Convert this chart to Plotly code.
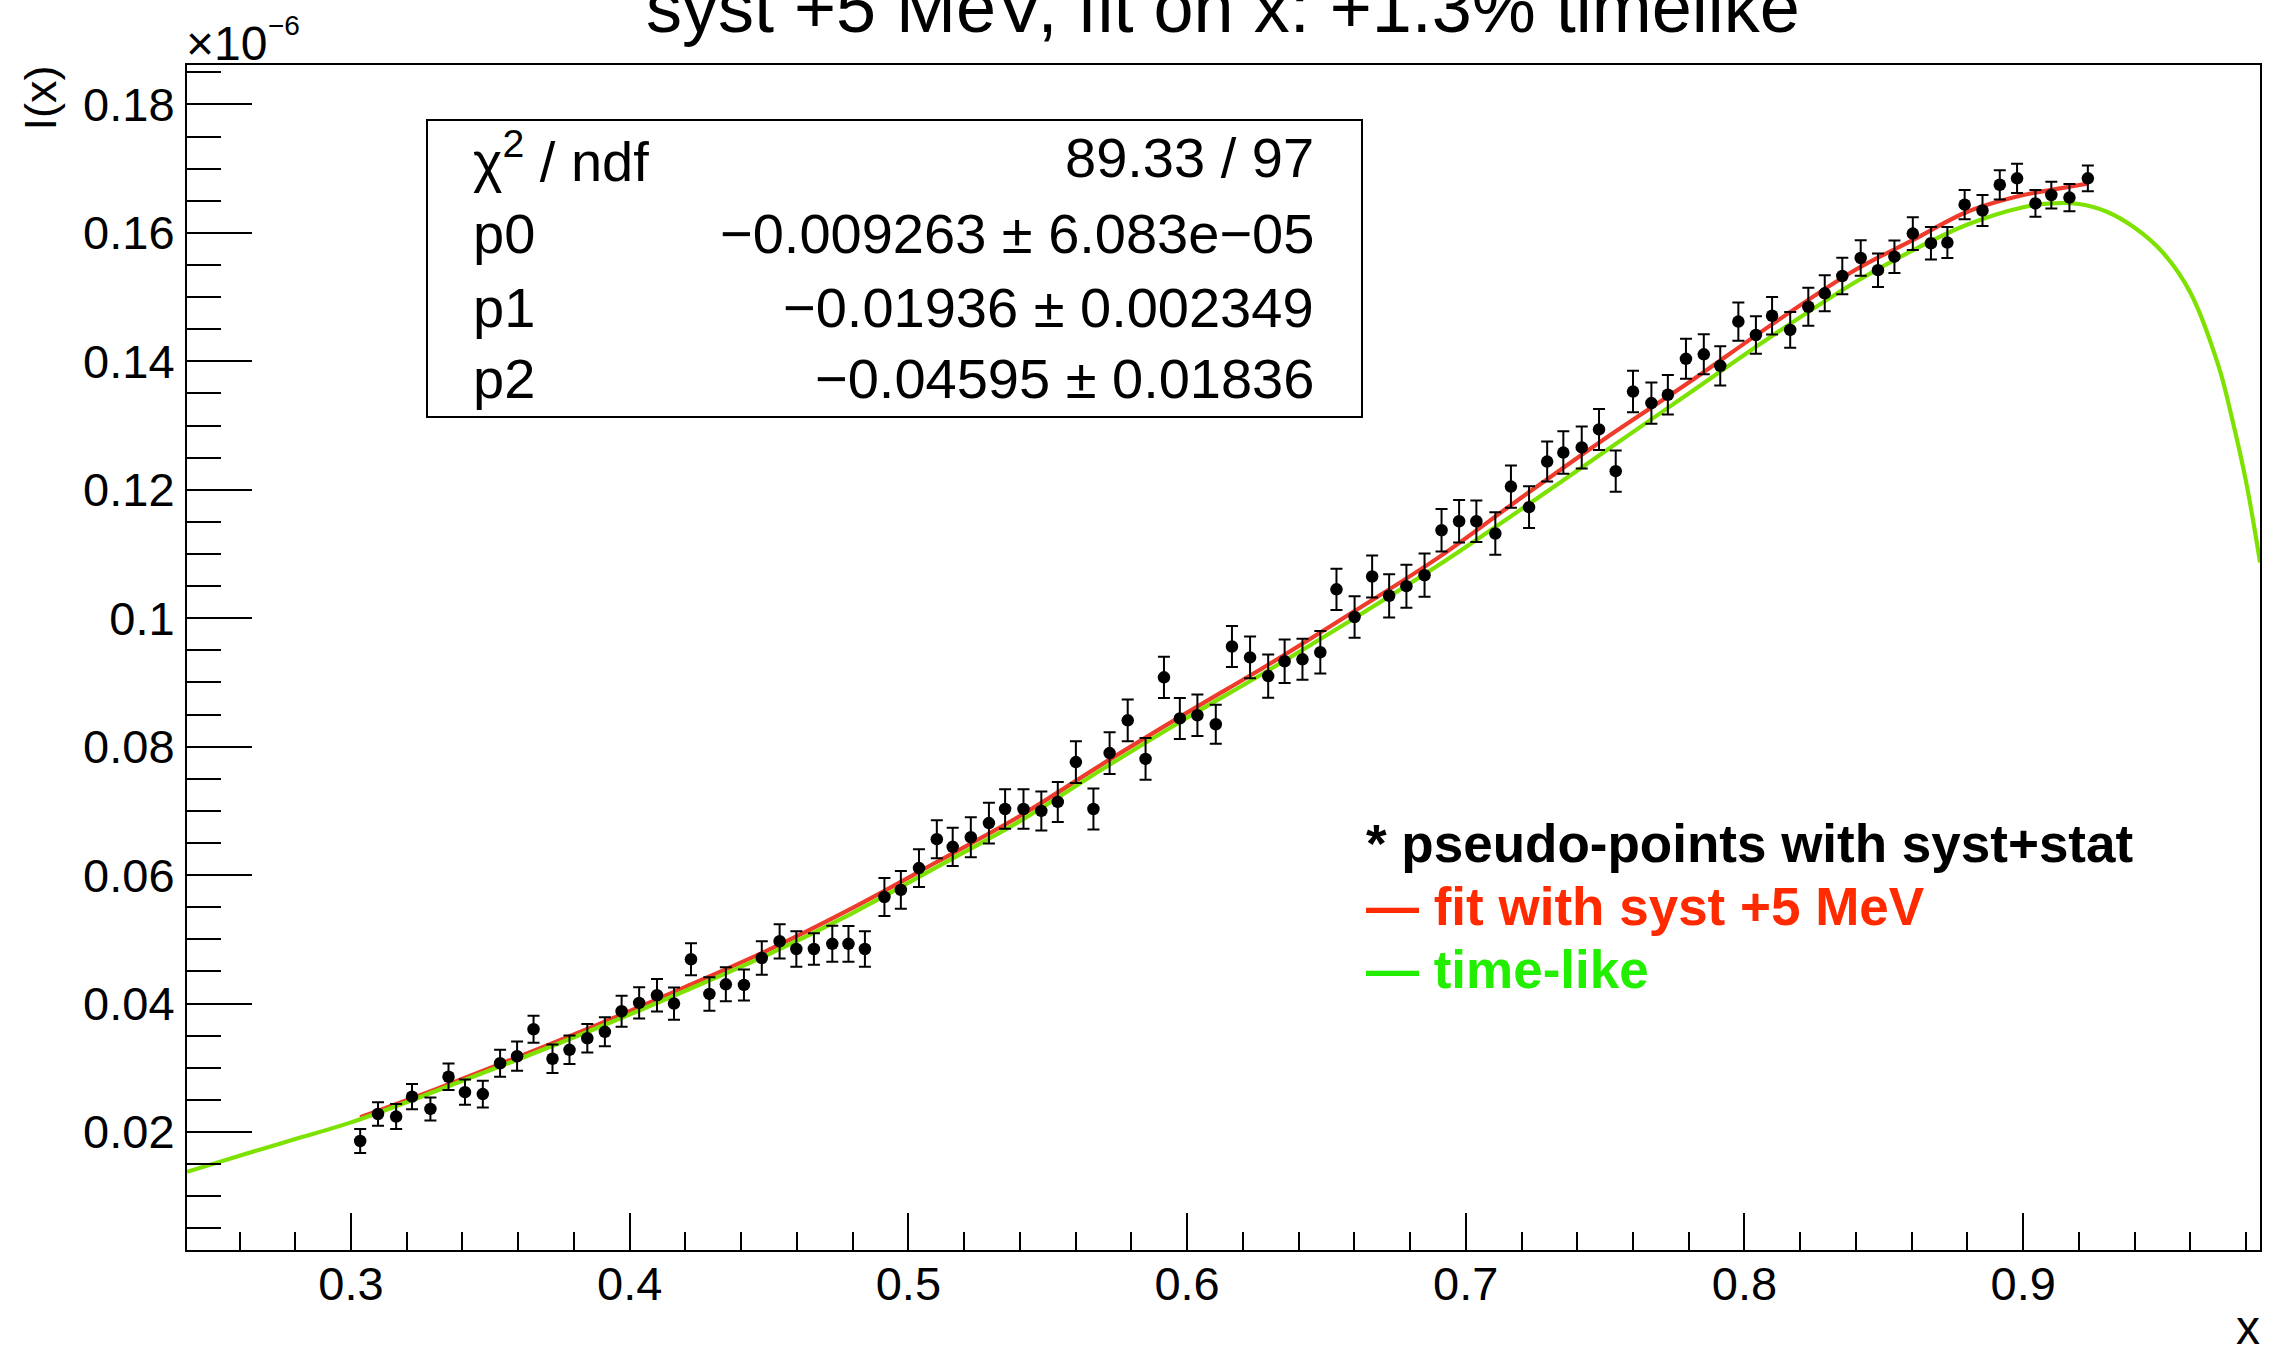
import plotly.graph_objects as go

# ---------------- data (values in units of 1e-6) ----------------
pts_x = [0.3033, 0.3097, 0.3162, 0.3219, 0.3285, 0.3350, 0.3409, 0.3473, 0.3535, 0.3596,
         0.3655, 0.3723, 0.3784, 0.3848, 0.3911, 0.3971, 0.4034, 0.4098, 0.4159, 0.4220,
         0.4286, 0.4345, 0.4410, 0.4474, 0.4538, 0.4598, 0.4661, 0.4727, 0.4785, 0.4844,
         0.4914, 0.4973, 0.5038, 0.5102, 0.5159, 0.5224, 0.5289, 0.5347, 0.5413, 0.5477,
         0.5536, 0.5601, 0.5664, 0.5722, 0.5787, 0.5851, 0.5917, 0.5974, 0.6037, 0.6103,
         0.6161, 0.6226, 0.6291, 0.6350, 0.6414, 0.6478, 0.6536, 0.6601, 0.6664, 0.6725,
         0.6787, 0.6852, 0.6913, 0.6976, 0.7038, 0.7106, 0.7162, 0.7227, 0.7292, 0.7350,
         0.7416, 0.7478, 0.7538, 0.7600, 0.7666, 0.7725, 0.7790, 0.7854, 0.7913, 0.7978,
         0.8041, 0.8099, 0.8164, 0.8229, 0.8288, 0.8351, 0.8417, 0.8479, 0.8538, 0.8604,
         0.8669, 0.8728, 0.8790, 0.8854, 0.8916, 0.8978, 0.9044, 0.9101, 0.9166, 0.9232]
pts_y = [0.0186, 0.0228, 0.0224, 0.0255, 0.0236, 0.0286, 0.0262, 0.0259, 0.0307, 0.0318,
         0.0360, 0.0314, 0.0328, 0.0346, 0.0356, 0.0388, 0.0401, 0.0413, 0.0400, 0.0469,
         0.0415, 0.0430, 0.0429, 0.0471, 0.0497, 0.0485, 0.0485, 0.0493, 0.0493, 0.0485,
         0.0566, 0.0577, 0.0611, 0.0656, 0.0644, 0.0659, 0.0681, 0.0703, 0.0703, 0.0700,
         0.0714, 0.0776, 0.0703, 0.0790, 0.0841, 0.0781, 0.0908, 0.0844, 0.0849, 0.0835,
         0.0956, 0.0939, 0.0910, 0.0933, 0.0936, 0.0947, 0.1045, 0.1002, 0.1065, 0.1035,
         0.1050, 0.1067, 0.1137, 0.1151, 0.1151, 0.1132, 0.1205, 0.1173, 0.1244, 0.1258,
         0.1266, 0.1294, 0.1229, 0.1353, 0.1335, 0.1348, 0.1404, 0.1411, 0.1393, 0.1462,
         0.1441, 0.1471, 0.1449, 0.1485, 0.1506, 0.1533, 0.1561, 0.1542, 0.1563, 0.1599,
         0.1584, 0.1585, 0.1644, 0.1635, 0.1675, 0.1685, 0.1646, 0.1659, 0.1655, 0.1685]
pts_err = [0.00187, 0.00182, 0.00195, 0.00197, 0.00179, 0.00205, 0.00197, 0.00210, 0.00210, 0.00228,
           0.00210, 0.00223, 0.00223, 0.00223, 0.00226, 0.00241, 0.00244, 0.00254, 0.00252, 0.00249,
           0.00260, 0.00265, 0.00241, 0.00262, 0.00267, 0.00278, 0.00246, 0.00280, 0.00278, 0.00278,
           0.00295, 0.00293, 0.00293, 0.00296, 0.00299, 0.00311, 0.00316, 0.00306, 0.00306, 0.00304,
           0.00311, 0.00324, 0.00319, 0.00324, 0.00324, 0.00324, 0.00322, 0.00319, 0.00322, 0.00304,
           0.00319, 0.00324, 0.00337, 0.00340, 0.00319, 0.00330, 0.00322, 0.00324, 0.00327, 0.00337,
           0.00335, 0.00337, 0.00330, 0.00330, 0.00324, 0.00330, 0.00330, 0.00324, 0.00311, 0.00330,
           0.00327, 0.00320, 0.00322, 0.00324, 0.00322, 0.00309, 0.00311, 0.00311, 0.00304, 0.00298,
           0.00293, 0.00293, 0.00278, 0.00296, 0.00280, 0.00285, 0.00275, 0.00260, 0.00254, 0.00254,
           0.00254, 0.00241, 0.00228, 0.00241, 0.00228, 0.00228, 0.00208, 0.00208, 0.00213, 0.00200]

fit_x = [0.3033, 0.33, 0.36, 0.39, 0.42, 0.45, 0.48, 0.51, 0.54, 0.57, 0.60, 0.63,
         0.66, 0.69, 0.72, 0.75, 0.78, 0.81, 0.84, 0.86, 0.88, 0.90, 0.91, 0.9234]
fit_y = [0.0223, 0.0266, 0.0317, 0.0370, 0.0426, 0.0484, 0.0549, 0.0620, 0.0692, 0.0774, 0.0853, 0.0930,
         0.1011, 0.1094, 0.1188, 0.1280, 0.1367, 0.1458, 0.1543, 0.1588, 0.1633, 0.1659, 0.1667, 0.1677]

tl_x = [0.2412, 0.26, 0.28, 0.30, 0.33, 0.36, 0.39, 0.42, 0.45, 0.48, 0.51, 0.54, 0.57, 0.60,
        0.63, 0.66, 0.69, 0.72, 0.75, 0.78, 0.81, 0.84, 0.86, 0.88, 0.90, 0.91, 0.92, 0.93,
        0.94, 0.95, 0.96, 0.97, 0.975, 0.98, 0.985]
tl_y = [0.0138, 0.0163, 0.0189, 0.0215, 0.0263, 0.0313, 0.0365, 0.0420, 0.0477, 0.0541, 0.0612, 0.0684,
        0.0766, 0.0845, 0.0921, 0.1000, 0.1082, 0.1170, 0.1260, 0.1350, 0.1440, 0.1524, 0.1572, 0.1613,
        0.1640, 0.1646, 0.1645, 0.1633, 0.1608, 0.1570, 0.1507, 0.1394, 0.1310, 0.1212, 0.1087]

x_ticks = [0.3, 0.4, 0.5, 0.6, 0.7, 0.8, 0.9]
x_ticklabels = ["0.3", "0.4", "0.5", "0.6", "0.7", "0.8", "0.9"]
y_ticks = [0.02, 0.04, 0.06, 0.08, 0.10, 0.12, 0.14, 0.16, 0.18]
y_ticklabels = ["0.02", "0.04", "0.06", "0.08", "0.1", "0.12", "0.14", "0.16", "0.18"]

title_text = "syst +5 MeV, fit on x: +1.3% timelike"
stat_labels = ["χ<sup>2</sup> / ndf", "p0", "p1", "p2"]
stat_values = ["89.33 / 97", "−0.009263 ± 6.083e−05", "−0.01936 ± 0.002349", "−0.04595 ± 0.01836"]
legend_texts = ["* pseudo-points with syst+stat", "— fit with syst +5 MeV", "— time-like"]
legend_colors = ["#000000", "#ff2a00", "#22ee00"]

# ---------------- layout geometry (pixels) ----------------
W, H = 2274, 1351
L, R, T, B = 187, 2260, 65, 1250
FONT = "Liberation Sans, Arial, Helvetica, sans-serif"


def px(X):
    return (X - L) / (R - L)


def py(Y):
    return (B - Y) / (B - T)


def mid(baseline, size):
    return py(baseline - 0.3465 * size)


fig = go.Figure()
fig.add_trace(go.Scatter(x=fit_x, y=fit_y, mode="lines",
                         line=dict(color="#ee3b2b", width=4.2, shape="spline"),
                         hoverinfo="skip"))
fig.add_trace(go.Scatter(x=tl_x, y=tl_y, mode="lines",
                         line=dict(color="#7ee200", width=4.2, shape="spline"),
                         hoverinfo="skip"))
fig.add_trace(go.Scatter(x=pts_x, y=pts_y, mode="markers",
                         marker=dict(color="black", size=12.5),
                         error_y=dict(type="data", array=pts_err, color="black",
                                      thickness=2, width=6)))

annotations = []
# title
annotations.append(dict(text=title_text, x=px(1222.5), y=mid(32, 72), xref="paper", yref="paper",
                        xanchor="center", yanchor="middle", showarrow=False,
                        font=dict(family=FONT, size=72, color="black")))
# exponent label
annotations.append(dict(text="×10", x=px(184), y=mid(60, 48), xref="paper", yref="paper",
                        xanchor="left", yanchor="middle", showarrow=False,
                        font=dict(family=FONT, size=48, color="black")))
annotations.append(dict(text="−6", x=px(266), y=mid(35, 28), xref="paper", yref="paper",
                        xanchor="left", yanchor="middle", showarrow=False,
                        font=dict(family=FONT, size=28, color="black")))
# axis titles
annotations.append(dict(text="I(x)", x=px(40), y=py(64), xref="paper", yref="paper",
                        xanchor="center", yanchor="top", textangle=-90, showarrow=False,
                        font=dict(family=FONT, size=45, color="black")))
annotations.append(dict(text="x", x=px(2262), y=mid(1344, 48), xref="paper", yref="paper",
                        xanchor="right", yanchor="middle", showarrow=False,
                        font=dict(family=FONT, size=48, color="black")))
# stat box texts
stat_baselines = [177, 253, 327, 398]
for lab, val, bl in zip(stat_labels, stat_values, stat_baselines):
    annotations.append(dict(text=lab, x=px(471), y=mid(bl, 56), xref="paper", yref="paper",
                            xanchor="left", yanchor="middle", showarrow=False,
                            font=dict(family=FONT, size=56, color="black")))
    annotations.append(dict(text=val, x=px(1316), y=mid(bl, 56), xref="paper", yref="paper",
                            xanchor="right", yanchor="middle", showarrow=False,
                            font=dict(family=FONT, size=56, color="black")))
# legend texts
legend_baselines = [862, 925, 988]
for txt, col, bl in zip(legend_texts, legend_colors, legend_baselines):
    annotations.append(dict(text="<b>" + txt + "</b>", x=px(1364), y=mid(bl, 53),
                            xref="paper", yref="paper", xanchor="left", yanchor="middle",
                            showarrow=False, font=dict(family=FONT, size=53, color=col)))

shapes = [dict(type="rect", xref="paper", yref="paper", x0=px(427), x1=px(1362),
               y0=py(417), y1=py(120), line=dict(color="black", width=2),
               fillcolor="white", layer="above")]

fig.update_layout(
    width=W, height=H,
    margin=dict(l=L, r=W - R, t=T, b=H - B, pad=0),
    paper_bgcolor="white", plot_bgcolor="white",
    showlegend=False,
    font=dict(family=FONT, color="black"),
    annotations=annotations,
    shapes=shapes,
    xaxis=dict(range=[0.24116, 0.98497], showgrid=False, zeroline=False,
               showline=True, linecolor="black", linewidth=2, mirror=True,
               ticks="inside", ticklen=37, tickwidth=1.5, tickcolor="black",
               tickvals=x_ticks, ticktext=x_ticklabels,
               tickfont=dict(family=FONT, size=47, color="black"),
               ticklabelstandoff=-8,
               minor=dict(ticks="inside", ticklen=18, tickwidth=1.5, tickcolor="black",
                          dtick=0.02, tick0=0.0, showgrid=False)),
    yaxis=dict(range=[0.001626, 0.18615], showgrid=False, zeroline=False,
               showline=True, linecolor="black", linewidth=2, mirror=True,
               ticks="inside", ticklen=65, tickwidth=1.5, tickcolor="black",
               tickvals=y_ticks, ticktext=y_ticklabels,
               tickfont=dict(family=FONT, size=47, color="black"),
               ticklabelstandoff=1,
               minor=dict(ticks="inside", ticklen=34, tickwidth=1.5, tickcolor="black",
                          dtick=0.005, tick0=0.0, showgrid=False)),
)

fig.write_html("out.html")
